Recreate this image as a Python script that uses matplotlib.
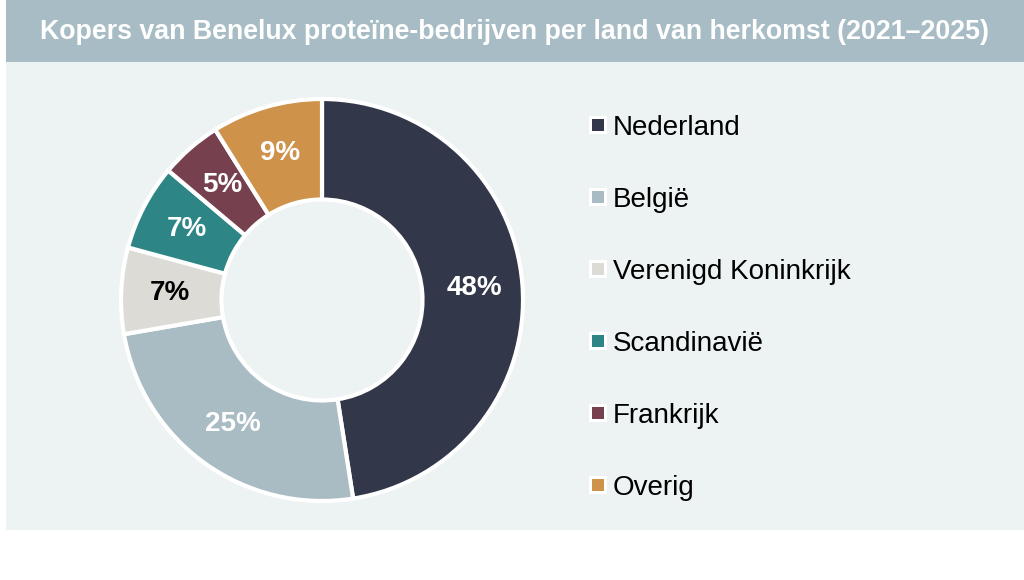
import numpy as np
import matplotlib.pyplot as plt
from matplotlib.patches import Rectangle

plt.rcParams['font.family'] = ['Liberation Sans', 'DejaVu Sans']

# Data
countries = ['Nederland', 'België', 'Verenigd Koninkrijk', 'Scandinavië', 'Frankrijk', 'Overig']
shares = [48, 25, 7, 7, 5, 9]
colors = ['#323749', '#a9bcc4', '#dddbd5', '#2e8585', '#76404e', '#cf924a']
label_colors = ['white', 'white', 'black', 'white', 'white', 'white']
title = 'Kopers van Benelux proteïne-bedrijven per land van herkomst (2021–2025)'

W, H = 1024, 580
fig = plt.figure(figsize=(W / 100, H / 100), dpi=100)

# overlay in pixel coordinates for panel, title bar and legend
bg = fig.add_axes([0, 0, 1, 1])
bg.set_xlim(0, W)
bg.set_ylim(H, 0)
bg.axis('off')
bg.add_patch(Rectangle((6, 0), W - 6, 530, facecolor='#edf2f2', edgecolor='none'))
bg.add_patch(Rectangle((6, 0), W - 6, 62, facecolor='#a7bcc4', edgecolor='none'))
bg.text(515, 32, title, color='white', fontsize=19.3, fontweight='bold',
        ha='center', va='center')

# donut
cx, cy, r = 322, 300, 201
ax = fig.add_axes([(cx - r) / W, (H - cy - r) / H, 2 * r / W, 2 * r / H])
wedges, texts = ax.pie(shares, colors=colors, startangle=90, counterclock=False,
                       radius=1, wedgeprops=dict(width=0.5, edgecolor='white', linewidth=3))
ax.set_xlim(-1, 1)
ax.set_ylim(-1, 1)
ax.set_aspect('equal')
ax.axis('off')

for w, s, tc in zip(wedges, shares, label_colors):
    ang = np.deg2rad((w.theta1 + w.theta2) / 2)
    ax.text(0.76 * np.cos(ang), 0.76 * np.sin(ang), f'{s}%', color=tc,
            fontsize=20, fontweight='bold', ha='center', va='center')

# legend
y0, step = 125, 72
for i, (name, c) in enumerate(zip(countries, colors)):
    y = y0 + i * step
    bg.add_patch(Rectangle((589, y - 9), 18, 18, facecolor='white', edgecolor='none'))
    bg.add_patch(Rectangle((592, y - 6), 12, 12, facecolor=c, edgecolor='none'))
    bg.text(613, y + 10, name, fontsize=20, color='black', ha='left', va='baseline')

fig.savefig('out.png', dpi=100)
